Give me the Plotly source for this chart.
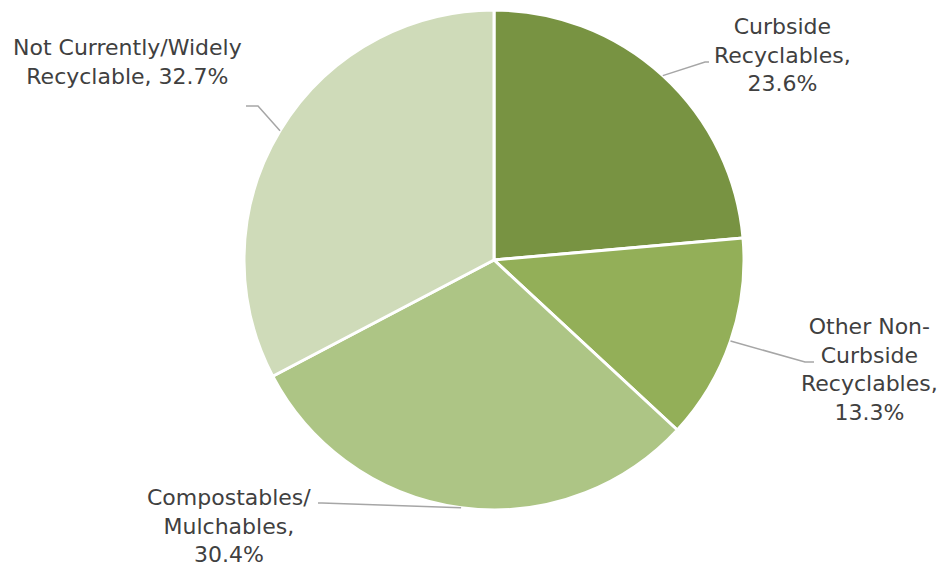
import math
import plotly.graph_objects as go

# Waste composition shares (percent)
categories = [
    "Curbside Recyclables",
    "Other Non-Curbside Recyclables",
    "Compostables/ Mulchables",
    "Not Currently/Widely Recyclable",
]
shares = [23.6, 13.3, 30.4, 32.7]
label_text = [
    "Curbside<br>Recyclables,<br>{v}%",
    "Other Non-<br>Curbside<br>Recyclables,<br>{v}%",
    "Compostables/<br>Mulchables,<br>{v}%",
    "Not Currently/Widely<br>Recyclable, {v}%",
]
colors = ["#789342", "#93AF58", "#ADC585", "#CFDBB9"]

W, H = 940, 567
CX, CY, R = 494, 260, 250  # pie centre and radius in pixels

# label placement (pixel centre of text block) and elbow of the leader line
label_pos = [(782, 55), (869, 369), (229, 526), (127, 62)]
elbow = [(705, 62), (805, 362), (322, 503), (258, 106)]
elbow_end = [(709, 62), (814, 362), (318, 503), (246, 106)]

fig = go.Figure()
fig.add_trace(go.Pie(
    labels=categories,
    values=shares,
    sort=False,
    direction="clockwise",
    rotation=0,
    textinfo="none",
    hoverinfo="label+percent",
    marker=dict(colors=colors, line=dict(color="white", width=3)),
    domain=dict(x=[(CX - R) / W, (CX + R) / W], y=[1 - (CY + R) / H, 1 - (CY - R) / H]),
    showlegend=False,
))

total = sum(shares)
cum = 0.0
for i, v in enumerate(shares):
    mid = (cum + v / 2) / total * 2 * math.pi
    cum += v
    px = CX + R * math.sin(mid)
    py = CY - R * math.cos(mid)
    ex, ey = elbow[i]
    fx, fy = elbow_end[i]
    fig.add_shape(type="path", xref="x", yref="y",
                  path=f"M {px:.1f} {py:.1f} L {ex} {ey} L {fx} {fy}",
                  line=dict(color="#A6A6A6", width=1.5))
    lx, ly = label_pos[i]
    fig.add_annotation(x=lx, y=ly, xref="x", yref="y",
                       text=label_text[i].format(v=v), showarrow=False,
                       align="center", xanchor="center", yanchor="middle",
                       font=dict(family="DejaVu Sans", size=22, color="#404040"))

fig.update_layout(
    width=W, height=H,
    margin=dict(l=0, r=0, t=0, b=0),
    paper_bgcolor="white", plot_bgcolor="white",
    xaxis=dict(range=[0, W], visible=False, fixedrange=True),
    yaxis=dict(range=[H, 0], visible=False, fixedrange=True),
)

fig.write_html("out.html")
